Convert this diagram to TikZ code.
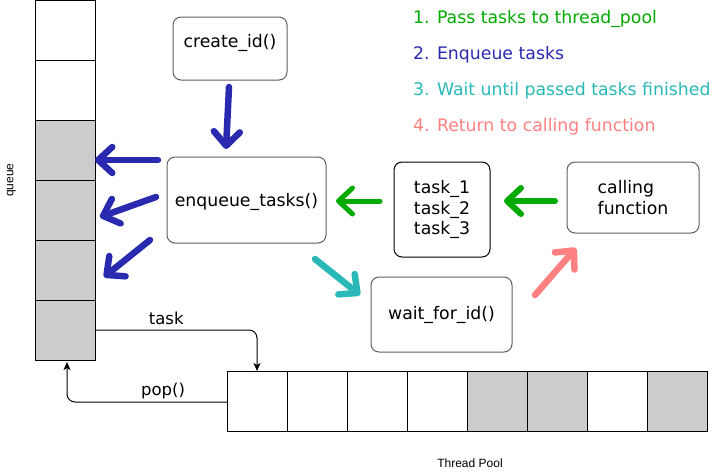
\documentclass[tikz,border=0pt]{standalone}
\usepackage{fontspec}
\setmainfont{DejaVu Sans}
\newfontfamily\captionfont{Liberation Sans}
\usetikzlibrary{arrows.meta,calc}

\definecolor{passgreen}{RGB}{0,170,0}
\definecolor{enqblue}{RGB}{42,42,176}
\definecolor{waitteal}{RGB}{42,184,184}
\definecolor{retsalmon}{RGB}{255,128,128}
\definecolor{cellgray}{RGB}{204,204,204}
\definecolor{boxgray}{RGB}{96,96,96}

\tikzset{
    cell/.style={draw=black, line width=1pt, minimum size=60pt, inner sep=0pt, outer sep=0pt},
    fbox/.style={draw=boxgray, line width=1pt, rounded corners=8pt, fill=white, align=center},
    legend/.style={anchor=base west, inner sep=0pt},
    caption/.style={font=\captionfont\fontsize{12}{14}\selectfont},
    linklabel/.style={font=\fontsize{16.5}{19}\selectfont, anchor=base, inner sep=0pt},
    link/.style={line width=1pt, rounded corners=8pt, -{Stealth[length=8pt,width=7pt,inset=2pt]}},
    fatarrow/.style={line width=6.5pt, line cap=round,
        -{Straight Barb[length=14pt,width=26pt,round]}},
}

\begin{document}
\begin{tikzpicture}[x=1pt, y=-1pt, font=\fontsize{17.3}{20.5}\selectfont]
    \useasboundingbox (0,0) rectangle (714,474);

    % queue on the left
    \foreach \i/\f in {1/white,2/white,3/cellgray,4/cellgray,5/cellgray,6/cellgray}
        \node[cell, fill=\f] (q\i) at (65,{60*\i-30}) {};
    \node[caption, rotate=90] (qname) at (11.5,180) {queue};

    % thread pool at the bottom
    \foreach \i/\f in {1/white,2/white,3/white,4/white,5/cellgray,6/cellgray,7/white,8/cellgray}
        \node[cell, fill=\f] (p\i) at ({60*\i+197},401) {};
    \node[caption, anchor=base] (pname) at (470,467) {Thread Pool};

    % function boxes
    \node[fbox, minimum width=114pt, inner ysep=0pt, text height=30pt, text depth=33pt] (create) at (230,48.5) {create\_id()};
    \node[fbox, minimum width=159pt, inner ysep=0pt, text height=49pt, text depth=37pt] (enqueue) at (246.5,200) {enqueue\_tasks()};
    \node[fbox, draw=black, minimum width=96pt, minimum height=95pt, align=left] (tasks) at (442,209.5) {task\_1\\task\_2\\task\_3};
    \node[fbox, minimum width=132pt, minimum height=71pt, align=left] (caller) at (633,197.5) {calling\\function};
    \node[fbox, minimum width=141pt, minimum height=75pt] (wait) at (441.5,314.5) {wait\_for\_id()};

    % legend
    \node[legend, text=passgreen] (leg1) at (413,23.5) {1. Pass tasks to thread\_pool};
    \node[legend, text=enqblue] (leg2) at (413,59.5) {2. Enqueue tasks};
    \node[legend, text=waitteal] (leg3) at (413,95.5) {3. Wait until passed tasks finished};
    \node[legend, text=retsalmon] (leg4) at (413,131.5) {4. Return to calling function};

    % queue <-> pool
    \draw[link] (q6.east) -| node[linklabel, pos=0.22, yshift=6pt] {task} (p1.north);
    \draw[link, shorten >=2pt] ([yshift=-1pt]p1.west) -| node[linklabel, pos=0.2, yshift=6.5pt] {pop()} ([xshift=2pt]q6.south);

    % ends of the fat arrows
    \coordinate (c1) at (229,87);  \coordinate (c2) at (226,149);
    \coordinate (e1) at (158,160); \coordinate (e2) at (95,160);
    \coordinate (e3) at (156,197); \coordinate (e4) at (100,217);
    \coordinate (e5) at (150,240); \coordinate (e6) at (104,277);
    \coordinate (t1) at (380,201); \coordinate (t2) at (336,201);
    \coordinate (f1) at (555,201); \coordinate (f2) at (504,201);
    \coordinate (w1) at (315,259); \coordinate (w2) at (360,295);
    \coordinate (r1) at (535,295); \coordinate (r2) at (576,248);

    % step 1: pass tasks
    \draw[fatarrow, passgreen, line width=6pt] (f1) -- (f2);
    \draw[fatarrow, passgreen, line width=5pt] (t1) -- (t2);
    % step 2: enqueue
    \draw[fatarrow, enqblue] (c1) -- (c2);
    \draw[fatarrow, enqblue] (e1) -- (e2);
    \draw[fatarrow, enqblue] (e3) -- (e4);
    \draw[fatarrow, enqblue] (e5) -- (e6);
    % step 3: wait
    \draw[fatarrow, waitteal] (w1) -- (w2);
    % step 4: return
    \draw[fatarrow, retsalmon] (r1) -- (r2);
\end{tikzpicture}
\end{document}
